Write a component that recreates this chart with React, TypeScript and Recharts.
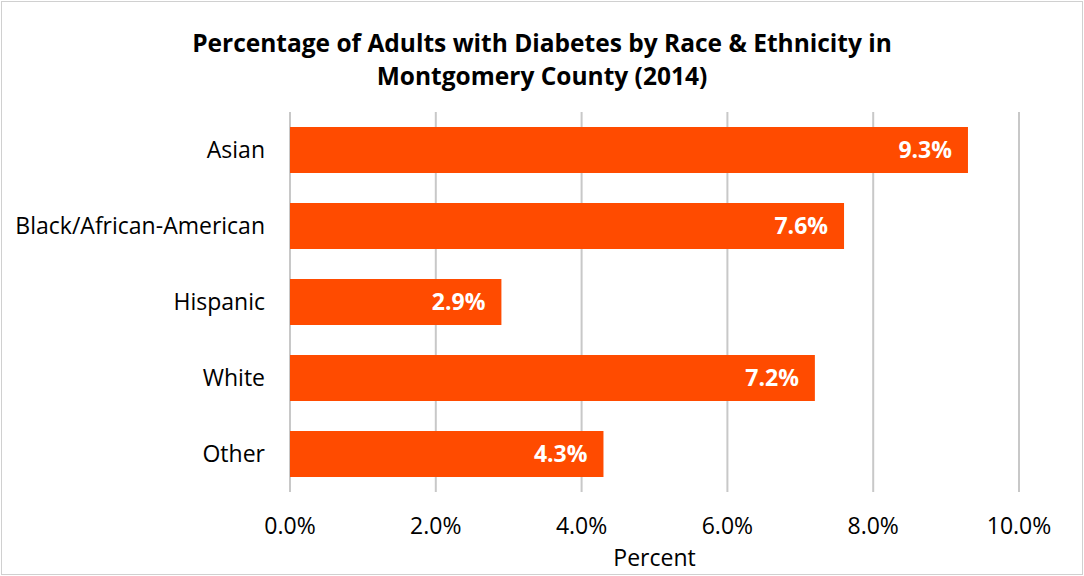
import React from "react";
import { Bar, BarChart, CartesianGrid, LabelList, XAxis, YAxis } from "recharts";

// Share of adults with diabetes, Montgomery County 2014 (percent)
const groups = ["Asian", "Black/African-American", "Hispanic", "White", "Other"];
const percents = [9.3, 7.6, 2.9, 7.2, 4.3];
const xTicks = [0, 2, 4, 6, 8, 10];

const data = groups.map((g, i) => ({ group: g, pct: percents[i] }));

const FONT = "'Open Sans', 'Noto Sans', sans-serif";
const ORANGE = "#FF4B00";

export default function App() {
  return (
    <div style={{ position: "absolute", left: 0, top: 0, width: 1084, height: 576, background: "#fff", fontFamily: FONT }}>
      <div
        style={{
          position: "absolute",
          left: 1,
          top: 1,
          width: 1082,
          height: 574,
          boxSizing: "border-box",
          border: "1px solid #d0d0d0",
          pointerEvents: "none",
        }}
      />
      <div
        style={{
          position: "absolute",
          left: 0,
          top: 26,
          width: 1084,
          textAlign: "center",
          fontWeight: 700,
          fontSize: 24.5,
          lineHeight: "33px",
          color: "#000",
        }}
      >
        Percentage of Adults with Diabetes by Race &amp; Ethnicity in
        <br />
        Montgomery County (2014)
      </div>
      <BarChart
        width={1084}
        height={576}
        data={data}
        layout="vertical"
        margin={{ top: 112, right: 65, bottom: 0, left: 0 }}
        barSize={46}
      >
        <CartesianGrid horizontal={false} stroke="#c8c8c8" strokeWidth={2} />
        <XAxis
          type="number"
          domain={[0, 10]}
          ticks={xTicks}
          tickFormatter={(v) => `${v.toFixed(1)}%`}
          axisLine={false}
          tickLine={false}
          tickSize={0}
          tickMargin={26}
          height={84}
          tick={{ fill: "#000", fontSize: 23, fontFamily: FONT }}
          label={{ value: "Percent", position: "insideBottom", offset: 10, fill: "#000", fontSize: 23, fontFamily: FONT }}
        />
        <YAxis
          type="category"
          dataKey="group"
          width={290}
          axisLine={false}
          tickLine={false}
          tickSize={0}
          tickMargin={25}
          tick={{ fill: "#000", fontSize: 23, fontFamily: FONT }}
        />
        <Bar dataKey="pct" fill={ORANGE} isAnimationActive={false}>
          <LabelList
            dataKey="pct"
            position="insideRight"
            offset={16}
            formatter={(v: number) => `${v.toFixed(1)}%`}
            fill="#fff"
            style={{ fontWeight: 700, fontSize: 23, fontFamily: FONT }}
          />
        </Bar>
      </BarChart>
    </div>
  );
}
